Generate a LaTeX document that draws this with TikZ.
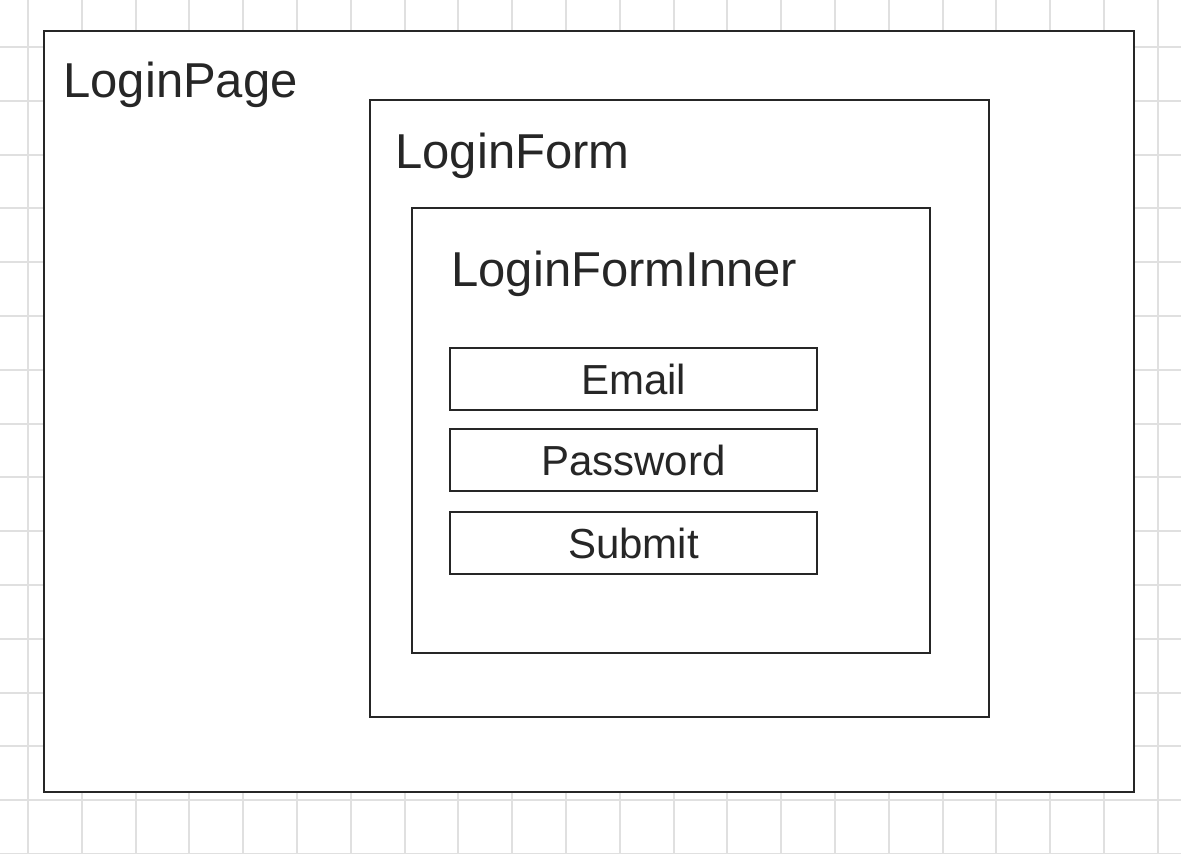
\documentclass[tikz,border=0pt]{standalone}
\usepackage{fontspec}
\setmainfont{Liberation Sans}
\begin{document}
\begin{tikzpicture}[x=0.5pt,y=-0.5pt]
\tikzstyle{gridline}=[draw=black!12, line width=1pt]
\tikzstyle{panel}=[draw=black!85, line width=1.25pt, fill=white, rectangle, inner sep=0pt, outer sep=0pt, anchor=north west]
\tikzstyle{title}=[anchor=base west, inner sep=0pt, text=black!85, font=\fontsize{24.5}{29}\selectfont]
\tikzstyle{field}=[draw=black!85, line width=1pt, rectangle, inner sep=0pt, minimum width=183.5pt, minimum height=31pt, text=black!85, font=\fontsize{21}{25}\selectfont]

\useasboundingbox (0,0) rectangle (1181,853);

% background grid
\foreach \i in {0,...,21}
  \draw[gridline] ({28+53.8*\i},0) -- ({28+53.8*\i},853);
\foreach \j in {-1,...,15}
  \draw[gridline] (0,{47+53.8*\j}) -- (1181,{47+53.8*\j});

% nested components
\draw (44,31) node[panel, minimum width=545pt, minimum height=380.5pt] (page) {};
\draw (370,100) node[panel, minimum width=309.5pt, minimum height=308.5pt] (form) {};
\draw (412,208) node[panel, minimum width=259pt, minimum height=222.5pt] (inner) {};

\draw (63,97) node[title] (pagelbl) {LoginPage};
\draw (395,168) node[title] (formlbl) {LoginForm};
\draw (451,286) node[title] (innerlbl) {LoginFormInner};

% form fields
\draw (633.5,379) node[field] (email) {Email};
\draw (633.5,460) node[field] (password) {Password};
\draw (633.5,543) node[field] (submit) {Submit};
\end{tikzpicture}
\end{document}
